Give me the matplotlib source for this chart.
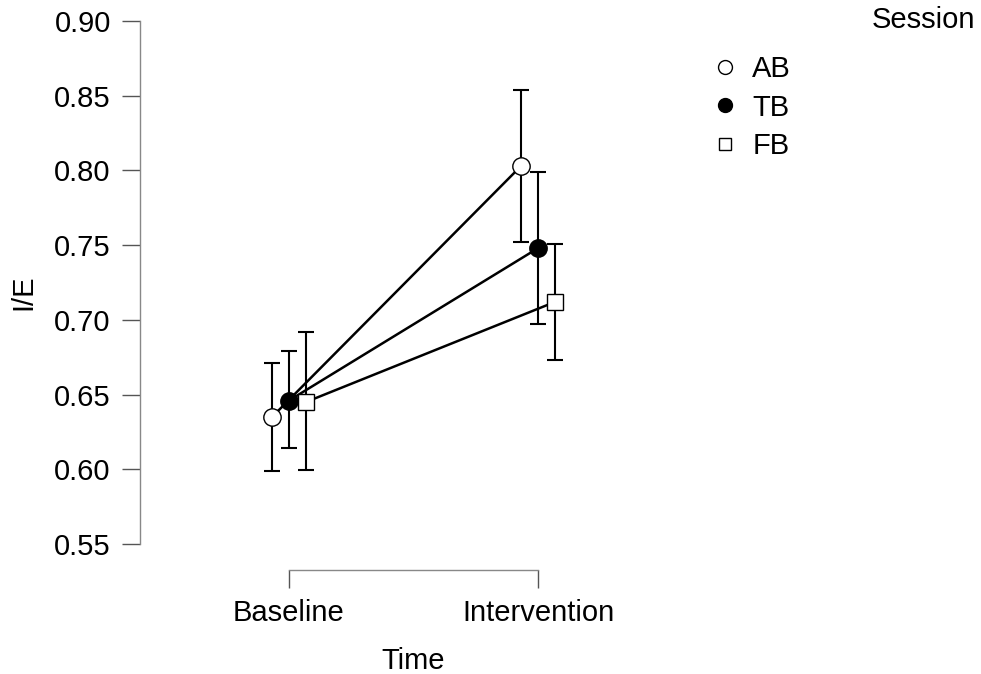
import matplotlib
matplotlib.use("Agg")
import matplotlib.pyplot as plt
from matplotlib.lines import Line2D
import numpy as np

plt.rcParams['font.family'] = ['Liberation Sans', 'DejaVu Sans']

times = ["Baseline", "Intervention"]
sessions = ["AB", "TB", "FB"]
means = {
    "AB": [0.635, 0.803],
    "TB": [0.646, 0.748],
    "FB": [0.645, 0.712],
}
lower = {
    "AB": [0.599, 0.752],
    "TB": [0.614, 0.697],
    "FB": [0.5995, 0.673],
}
upper = {
    "AB": [0.671, 0.854],
    "TB": [0.679, 0.799],
    "FB": [0.692, 0.751],
}
yticks = [0.55, 0.60, 0.65, 0.70, 0.75, 0.80, 0.85, 0.90]

markers = {"AB": "o", "TB": "o", "FB": "s"}
faces = {"AB": "white", "TB": "black", "FB": "white"}
msizes = {"AB": 12.5, "TB": 12.5, "FB": 11}
offsets = {"AB": -0.068, "TB": 0.0, "FB": 0.068}

fig = plt.figure(figsize=(9.81, 6.74), dpi=100)
ax = fig.add_axes([140/981, 1-570/674, (686-140)/981, (570-15)/674])

x = np.arange(len(times))
for s in sessions:
    xs = x + offsets[s]
    m = np.array(means[s])
    lo = m - np.array(lower[s])
    hi = np.array(upper[s]) - m
    ax.errorbar(xs, m, yerr=[lo, hi], fmt='none', ecolor='black',
                elinewidth=1.5, capsize=6, capthick=1.5, zorder=2)
    ax.plot(xs, m, color='black', lw=1.8, zorder=3)
    ax.plot(xs, m, linestyle='none', marker=markers[s], markersize=msizes[s],
            markerfacecolor=faces[s], markeredgecolor='black',
            markeredgewidth=1.0, zorder=4)

ax.set_xlim(-0.598, 1.594)
ax.set_ylim(0.55 - 26/1494, 0.90 + 6/1494)
ax.set_yticks(yticks)
ax.set_yticklabels([f"{v:.2f}" for v in yticks])
ax.set_xticks(x)
ax.set_xticklabels(times)

for sp in ['top', 'right']:
    ax.spines[sp].set_visible(False)
ax.spines['left'].set_bounds(0.55, 0.90)
ax.spines['bottom'].set_bounds(0, 1)
for sp in ['left', 'bottom']:
    ax.spines[sp].set_color('#888888')
    ax.spines[sp].set_linewidth(1.0)
ax.tick_params(axis='both', which='major', length=13, width=1.0,
               color='#555555', labelsize=21, labelcolor='black', pad=8)

ax.set_xlabel("Time", fontsize=21, labelpad=14)
ax.set_ylabel("I/E", fontsize=21, labelpad=12)

handles = [Line2D([], [], linestyle='none', marker=markers[s],
                  markersize=msizes[s]*0.8, markerfacecolor=faces[s],
                  markeredgecolor='black', markeredgewidth=1.0) for s in sessions]
fig.legend(handles, sessions, loc='upper left', bbox_to_anchor=(710/981, 1-55/674),
           frameon=False, fontsize=21, handlelength=1.0, handletextpad=0.45,
           labelspacing=0.36, borderpad=0, borderaxespad=0)
fig.text(975/981, 1-20/674, "Session", fontsize=21, ha='right', va='center')

fig.savefig("out.png", dpi=100)
